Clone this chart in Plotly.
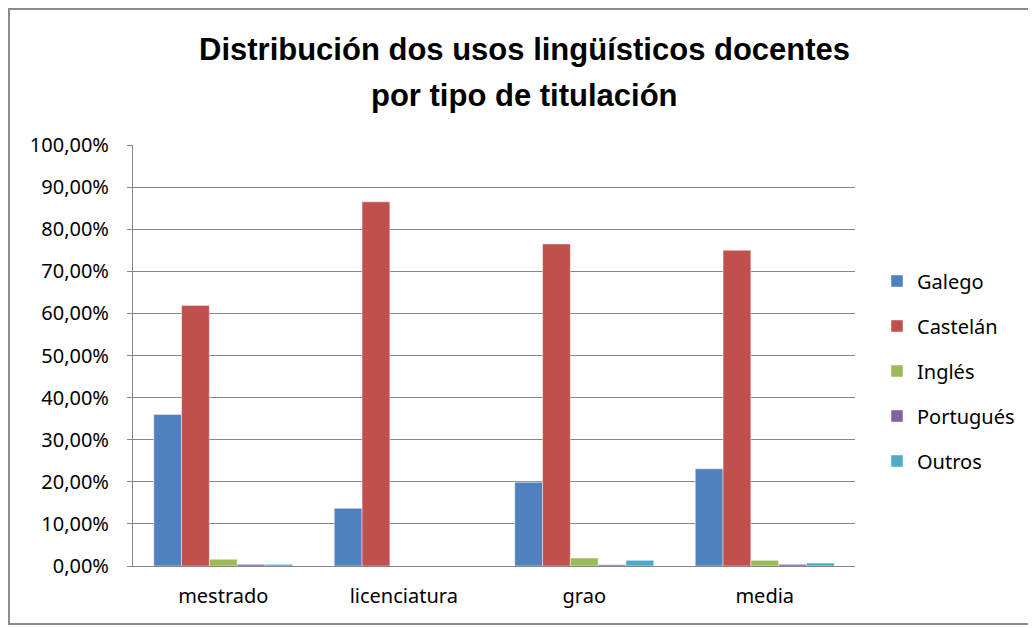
import plotly.graph_objects as go

categories = ["mestrado", "licenciatura", "grao", "media"]
series_names = ["Galego", "Castelán", "Inglés", "Portugués", "Outros"]
galego = [0.360, 0.137, 0.199, 0.231]
castelan = [0.619, 0.865, 0.765, 0.750]
ingles = [0.016, 0.0, 0.019, 0.0135]
portugues = [0.004, 0.0, 0.003, 0.004]
outros = [0.004, 0.0, 0.0135, 0.007]
colors = ["#4F81BD", "#C0504D", "#9BBB59", "#8064A2", "#4BACC6"]
y_ticks = [0, 0.1, 0.2, 0.3, 0.4, 0.5, 0.6, 0.7, 0.8, 0.9, 1.0]
title_lines = ["Distribución dos usos lingüísticos docentes", "por tipo de titulación"]

W, H = 1036, 628
OFF = 8  # page offset of the figure inside the browser page
L, R, T, B = 133 - OFF, 855 - OFF, 145 - OFF, 566 - OFF
pw, ph = R - L, B - T

def px_x(p):
    return (p - OFF - L) / pw

def px_y(p):
    return (B - (p - OFF)) / ph

fig = go.Figure()
for name, vals, col in zip(series_names, [galego, castelan, ingles, portugues, outros], colors):
    fig.add_trace(go.Bar(
        x=categories, y=vals, name=name, legendgroup=name,
        marker=dict(color=col, line=dict(color="rgba(255,255,255,0.45)", width=1)),
    ))

grid = "#868686"
fig.update_layout(
    width=W, height=H,
    margin=dict(l=L, r=W - R, t=T, b=H - B),
    paper_bgcolor="white", plot_bgcolor="white",
    separators=",.",
    barmode="group", bargap=0.23, bargroupgap=0,
    font=dict(family="Noto Sans, Open Sans, sans-serif", size=20, color="#000000"),
    xaxis=dict(
        showline=True, linecolor=grid, linewidth=1,
        ticks="", tickfont=dict(size=20),
        ticklabelstandoff=12,
        showgrid=False,
    ),
    yaxis=dict(
        range=[0, 1], tickvals=y_ticks, tickformat=".2%",
        showline=True, linecolor=grid, linewidth=1,
        ticks="outside", ticklen=5, tickcolor=grid,
        ticklabelstandoff=14,
        showgrid=True, gridcolor=grid, gridwidth=1,
        zeroline=False, tickfont=dict(size=20),
    ),
    legend=dict(
        x=px_x(877), xanchor="left", y=px_y(371), yanchor="middle",
        font=dict(size=20), tracegroupgap=16,
        bgcolor="rgba(0,0,0,0)",
    ),
)

title_font = dict(family="Liberation Sans, Arial, sans-serif", size=31, color="#000000", weight="bold")
for line, yc in zip(title_lines, [50, 95]):
    fig.add_annotation(
        text=line, xref="paper", yref="paper",
        x=px_x(524), y=px_y(yc), xanchor="center", yanchor="middle",
        showarrow=False, font=title_font,
    )

fig.add_shape(
    type="rect", xref="paper", yref="paper",
    x0=px_x(9), x1=px_x(1060), y0=px_y(624), y1=px_y(9),
    line=dict(color="#8C8C8C", width=2), layer="below",
)

fig.write_html("out.html")
